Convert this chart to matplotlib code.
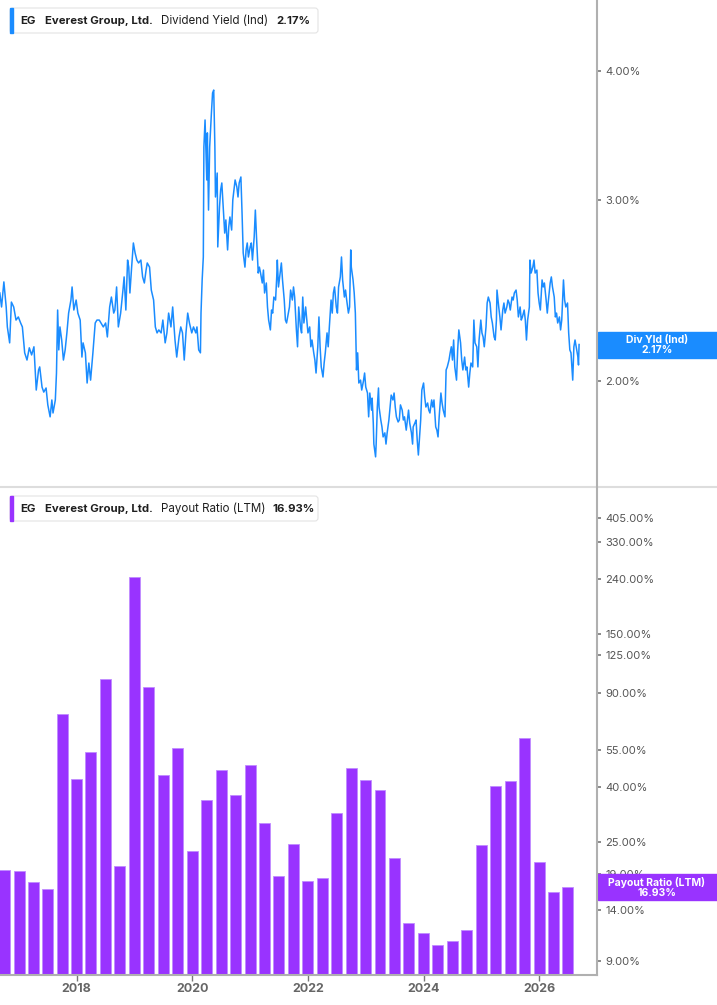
import matplotlib
matplotlib.use("Agg")
import matplotlib.pyplot as plt
from matplotlib.patches import Rectangle, FancyBboxPatch
from matplotlib.lines import Line2D
from matplotlib.transforms import IdentityTransform
from matplotlib.ticker import FixedLocator, FuncFormatter, NullLocator
import pandas as pd

plt.rcParams["font.family"] = ["Inter", "DejaVu Sans"]

# ---- data -------------------------------------------------------------
ticker = "EG"
company = "Everest Group, Ltd."

# dividend yield (Ind), % -- (decimal year, value)
div_yield_points = [
    (2016.67, 2.435), (2016.70, 2.360), (2016.74, 2.496), (2016.78, 2.360), (2016.80, 2.257),
    (2016.84, 2.178), (2016.87, 2.386), (2016.91, 2.360), (2016.95, 2.292), (2016.99, 2.308),
    (2017.03, 2.277), (2017.06, 2.257), (2017.10, 2.130), (2017.14, 2.096), (2017.18, 2.154),
    (2017.22, 2.120), (2017.26, 2.159), (2017.30, 1.960), (2017.34, 2.050), (2017.36, 2.064),
    (2017.40, 1.973), (2017.43, 1.951), (2017.47, 1.969), (2017.50, 1.896), (2017.54, 1.846),
    (2017.57, 1.917), (2017.59, 1.862), (2017.63, 1.917), (2017.65, 2.036), (2017.67, 2.344),
    (2017.69, 2.144), (2017.71, 2.257), (2017.74, 2.192), (2017.77, 2.096), (2017.80, 2.144),
    (2017.83, 2.227), (2017.86, 2.328), (2017.90, 2.397), (2017.92, 2.468), (2017.95, 2.344),
    (2017.99, 2.397), (2018.02, 2.328), (2018.06, 2.292), (2018.09, 2.110), (2018.11, 2.178),
    (2018.15, 2.130), (2018.18, 1.991), (2018.21, 2.082), (2018.24, 2.004), (2018.28, 2.130),
    (2018.32, 2.277), (2018.35, 2.292), (2018.39, 2.292), (2018.42, 2.277), (2018.46, 2.257),
    (2018.50, 2.277), (2018.53, 2.207), (2018.57, 2.360), (2018.60, 2.413), (2018.64, 2.328),
    (2018.66, 2.344), (2018.69, 2.468), (2018.72, 2.257), (2018.76, 2.328), (2018.80, 2.451),
    (2018.82, 2.524), (2018.85, 2.344), (2018.88, 2.621), (2018.90, 2.580), (2018.92, 2.435),
    (2018.95, 2.580), (2018.98, 2.723), (2019.01, 2.663), (2019.04, 2.621), (2019.07, 2.604),
    (2019.11, 2.621), (2019.14, 2.524), (2019.17, 2.490), (2019.20, 2.563), (2019.22, 2.604),
    (2019.26, 2.580), (2019.29, 2.451), (2019.33, 2.397), (2019.36, 2.257), (2019.39, 2.227),
    (2019.42, 2.242), (2019.46, 2.227), (2019.49, 2.292), (2019.53, 2.178), (2019.56, 2.227),
    (2019.59, 2.328), (2019.63, 2.257), (2019.66, 2.360), (2019.70, 2.192), (2019.73, 2.110),
    (2019.77, 2.207), (2019.80, 2.257), (2019.83, 2.227), (2019.86, 2.096), (2019.89, 2.227),
    (2019.92, 2.328), (2019.95, 2.277), (2019.99, 2.227), (2020.02, 2.257), (2020.06, 2.227),
    (2020.08, 2.257), (2020.11, 2.144), (2020.14, 2.130),
    (2020.15, 2.328), (2020.17, 2.507), (2020.19, 2.639), (2020.20, 3.375), (2020.22, 3.585),
    (2020.25, 3.135), (2020.26, 3.483), (2020.28, 2.931), (2020.30, 3.375), (2020.33, 3.641),
    (2020.35, 3.808), (2020.37, 3.833), (2020.39, 3.375), (2020.40, 3.018), (2020.43, 3.184),
    (2020.44, 2.699), (2020.47, 2.951), (2020.49, 3.066), (2020.51, 3.114), (2020.54, 2.912),
    (2020.56, 2.784), (2020.58, 2.867), (2020.61, 2.681), (2020.63, 2.822), (2020.65, 2.886),
    (2020.68, 2.803), (2020.70, 2.998), (2020.72, 3.066), (2020.74, 3.135), (2020.77, 3.086),
    (2020.79, 3.018), (2020.81, 3.114), (2020.84, 3.156), (2020.86, 2.912), (2020.88, 2.663),
    (2020.91, 2.580), (2020.93, 2.681), (2020.95, 2.723), (2020.97, 2.639), (2021.00, 2.699),
    (2021.02, 2.723), (2021.04, 2.621), (2021.07, 2.760), (2021.09, 2.931), (2021.11, 2.760),
    (2021.14, 2.546), (2021.16, 2.580), (2021.18, 2.546), (2021.21, 2.490), (2021.23, 2.563),
    (2021.25, 2.435), (2021.28, 2.490), (2021.30, 2.360), (2021.32, 2.292), (2021.35, 2.242),
    (2021.37, 2.344), (2021.39, 2.328), (2021.41, 2.413), (2021.44, 2.397), (2021.46, 2.524),
    (2021.47, 2.621), (2021.49, 2.468), (2021.52, 2.546), (2021.54, 2.604), (2021.56, 2.507),
    (2021.59, 2.397), (2021.61, 2.292), (2021.63, 2.277), (2021.66, 2.328), (2021.68, 2.360),
    (2021.70, 2.451), (2021.73, 2.397), (2021.75, 2.468), (2021.77, 2.413), (2021.80, 2.242),
    (2021.82, 2.159), (2021.84, 2.360), (2021.87, 2.257), (2021.89, 2.227), (2021.91, 2.413),
    (2021.93, 2.277), (2021.96, 2.360), (2021.98, 2.292), (2022.00, 2.227), (2022.03, 2.257),
    (2022.05, 2.159), (2022.07, 2.192), (2022.10, 2.130), (2022.12, 2.096), (2022.14, 2.036),
    (2022.17, 2.159), (2022.19, 2.308), (2022.21, 2.159), (2022.23, 2.064), (2022.26, 2.018),
    (2022.28, 2.082), (2022.30, 2.130), (2022.33, 2.227), (2022.35, 2.159), (2022.37, 2.257),
    (2022.40, 2.397), (2022.42, 2.328), (2022.44, 2.435), (2022.46, 2.468), (2022.49, 2.360),
    (2022.51, 2.328), (2022.53, 2.468), (2022.56, 2.524), (2022.58, 2.639), (2022.60, 2.507),
    (2022.63, 2.413), (2022.65, 2.451), (2022.67, 2.397), (2022.70, 2.328), (2022.72, 2.360),
    (2022.74, 2.681), (2022.75, 2.580), (2022.78, 2.507), (2022.80, 2.435), (2022.82, 2.328),
    (2022.84, 2.050), (2022.86, 2.130), (2022.88, 1.991), (2022.91, 2.004), (2022.93, 1.960),
    (2022.96, 2.000), (2022.98, 2.036), (2023.00, 1.973), (2023.03, 1.947), (2023.05, 1.846),
    (2023.07, 1.947), (2023.10, 1.874), (2023.11, 1.925), (2023.13, 1.821), (2023.14, 1.737),
    (2023.17, 1.688), (2023.18, 1.737), (2023.20, 1.887), (2023.22, 1.969), (2023.23, 1.887),
    (2023.26, 1.833), (2023.28, 1.805), (2023.30, 1.765), (2023.33, 1.781), (2023.35, 1.737),
    (2023.37, 1.781), (2023.40, 1.833), (2023.42, 1.887), (2023.44, 1.938), (2023.47, 1.917),
    (2023.49, 1.947), (2023.51, 1.887), (2023.53, 1.846), (2023.56, 1.825), (2023.58, 1.833),
    (2023.60, 1.896), (2023.63, 1.874), (2023.65, 1.833), (2023.67, 1.846), (2023.70, 1.792),
    (2023.72, 1.833), (2023.74, 1.874), (2023.76, 1.821), (2023.79, 1.781), (2023.81, 1.737),
    (2023.82, 1.805), (2023.85, 1.821), (2023.87, 1.833), (2023.89, 1.753), (2023.91, 1.695),
    (2023.93, 1.765), (2023.95, 1.833), (2023.97, 1.960), (2024.00, 1.991), (2024.02, 1.929),
    (2024.04, 1.887), (2024.07, 1.904), (2024.09, 1.874), (2024.11, 1.862), (2024.14, 1.917),
    (2024.16, 1.887), (2024.18, 1.917), (2024.21, 1.805), (2024.23, 1.792), (2024.25, 1.765),
    (2024.27, 1.846), (2024.30, 1.947), (2024.32, 1.904), (2024.34, 1.874), (2024.37, 1.846),
    (2024.39, 2.050), (2024.41, 2.064), (2024.44, 2.096), (2024.46, 2.130),
    (2024.48, 2.159), (2024.50, 2.096), (2024.52, 2.192), (2024.54, 2.064), (2024.57, 2.004),
    (2024.59, 2.144), (2024.61, 2.242), (2024.64, 2.178), (2024.66, 2.096), (2024.68, 2.050),
    (2024.71, 2.110), (2024.73, 2.050), (2024.75, 2.064), (2024.78, 1.973), (2024.80, 2.036),
    (2024.82, 2.082), (2024.85, 2.064), (2024.87, 2.292), (2024.89, 2.178), (2024.92, 2.159),
    (2024.94, 2.064), (2024.96, 2.192), (2024.99, 2.292), (2025.01, 2.227), (2025.03, 2.207),
    (2025.05, 2.159), (2025.08, 2.257), (2025.10, 2.381), (2025.12, 2.413), (2025.15, 2.381),
    (2025.17, 2.308), (2025.19, 2.277), (2025.22, 2.207), (2025.24, 2.192), (2025.26, 2.292),
    (2025.27, 2.451), (2025.30, 2.360), (2025.32, 2.308), (2025.34, 2.242), (2025.37, 2.344),
    (2025.39, 2.381), (2025.41, 2.328), (2025.44, 2.360), (2025.46, 2.397), (2025.48, 2.381),
    (2025.50, 2.344), (2025.53, 2.413), (2025.55, 2.397), (2025.57, 2.435), (2025.60, 2.451),
    (2025.62, 2.397), (2025.64, 2.308), (2025.67, 2.360), (2025.69, 2.292), (2025.71, 2.308),
    (2025.74, 2.344), (2025.76, 2.292), (2025.78, 2.192), (2025.80, 2.292), (2025.83, 2.360),
    (2025.84, 2.621), (2025.86, 2.546), (2025.89, 2.580), (2025.91, 2.621), (2025.93, 2.546),
    (2025.96, 2.563), (2025.98, 2.435), (2026.00, 2.381), (2026.02, 2.344), (2026.05, 2.507),
    (2026.07, 2.468), (2026.09, 2.490), (2026.12, 2.397), (2026.14, 2.328), (2026.16, 2.397),
    (2026.19, 2.490), (2026.21, 2.524), (2026.23, 2.468), (2026.26, 2.413), (2026.28, 2.308),
    (2026.30, 2.328), (2026.32, 2.277), (2026.35, 2.308), (2026.37, 2.242), (2026.39, 2.292),
    (2026.42, 2.507), (2026.44, 2.397), (2026.46, 2.360), (2026.49, 2.381), (2026.51, 2.227),
    (2026.53, 2.144), (2026.55, 2.130), (2026.58, 2.004), (2026.60, 2.159), (2026.62, 2.192),
    (2026.65, 2.144), (2026.67, 2.110), (2026.68, 2.073), (2026.69, 2.170),
]
div_years = [p[0] for p in div_yield_points]
div_yield = [p[1] for p in div_yield_points]

# payout ratio (LTM), %, one bar per quarter end
quarter_ends = pd.date_range("2016-09-30", periods=40, freq="QE")
payout_ratio = [
    19.66, 19.54, 17.69, 16.65, 75.3, 42.9, 54.0, 101.4, 20.3, 243.0,
    94.5, 44.6, 55.9, 23.1, 35.9, 46.3, 37.4, 48.3, 29.4, 18.7,
    24.5, 17.9, 18.35, 32.0, 47.3, 42.6, 39.0, 21.85, 12.47, 11.44,
    10.32, 10.71, 11.74, 24.3, 40.4, 42.2, 61.1, 21.05, 16.23, 16.93,
]
payout_years = [d.year + d.dayofyear / 365.25 for d in quarter_ends]

yield_ticks = [2, 3, 4]
payout_ticks = [9, 14, 19, 25, 40, 55, 90, 125, 150, 240, 330, 405]
year_ticks = [2018, 2020, 2022, 2024, 2026]

last_yield = 2.17
last_payout = 16.93

# ---- style ------------------------------------------------------------
BLUE = "#1a8cff"
PURPLE = "#9933ff"
AXIS_GRAY = "#b0b0b0"
TEXT = "#1f1f1f"

W, H = 717, 1005
fig = plt.figure(figsize=(W / 100, H / 100), dpi=100)


def fx(px):
    return px / W


def fy(py):
    return 1 - py / H


ax1 = fig.add_axes([0, fy(487), fx(597), fy(0) - fy(487)])
ax2 = fig.add_axes([0, fy(975), fx(597), fy(490) - fy(975)])

pct = FuncFormatter(lambda v, _: "%.2f%%" % v)

for ax in (ax1, ax2):
    ax.set_yscale("log")
    ax.set_xlim(2016.673, 2027.0)
    for s in ("left", "top", "right"):
        ax.spines[s].set_visible(False)
    ax.yaxis.tick_right()
    ax.yaxis.set_minor_locator(NullLocator())
    ax.yaxis.set_major_formatter(pct)
    ax.tick_params(axis="y", length=3, width=1.2, color="#777777",
                   labelsize=8, labelcolor="#555555", pad=3)
    ax.patch.set_alpha(0)

# top panel: dividend yield line
ax1.plot(div_years, div_yield, color=BLUE, lw=1.1)
ax1.set_ylim(1.578, 4.688)
ax1.yaxis.set_major_locator(FixedLocator(yield_ticks))
ax1.spines["bottom"].set_visible(False)
ax1.set_xticks([])

# bottom panel: payout ratio bars
ax2.bar(payout_years, payout_ratio, width=0.19, color=PURPLE,
        edgecolor="#c08cff", linewidth=0.6)
ax2.set_ylim(7.98, 515)
ax2.yaxis.set_major_locator(FixedLocator(payout_ticks))
ax2.spines["bottom"].set_color(AXIS_GRAY)
ax2.spines["bottom"].set_linewidth(1.5)
ax2.set_xticks(year_ticks)
ax2.set_xticklabels([str(y) for y in year_ticks])
ax2.tick_params(axis="x", length=4, width=1, color="#777777",
                labelsize=9, labelcolor="#666666", pad=2)
for lab in ax2.get_xticklabels():
    lab.set_fontweight("bold")

# separator and right axis line
fig.add_artist(Line2D([0, 1], [fy(487), fy(487)], transform=fig.transFigure,
                      color="#dddddd", lw=1.5))
fig.add_artist(Line2D([fx(597), fx(597)], [fy(0), fy(975)], transform=fig.transFigure,
                      color=AXIS_GRAY, lw=1.5))

px = IdentityTransform()


def legend_box(top, color, label, value):
    fig.add_artist(FancyBboxPatch((10, H - top - 25), 308, 25,
                                  boxstyle="round,pad=0,rounding_size=3",
                                  fc="white", ec="#e4e4e4", lw=0.8, transform=px))
    fig.add_artist(Rectangle((10, H - top - 25), 3, 25, color=color, transform=px))
    yc = fy(top + 13)
    fig.text(fx(20), yc, ticker, fontsize=8.2, weight="bold", color=TEXT, va="center")
    fig.text(fx(45), yc, company, fontsize=8.2, weight="bold", color=TEXT, va="center")
    fig.text(fx(161), yc, label, fontsize=8.3, color=TEXT, va="center")
    fig.text(fx(value[1]), yc, value[0], fontsize=8.2, weight="bold", color=TEXT, va="center")


legend_box(8, BLUE, "Dividend Yield (Ind)", ("%.2f%%" % last_yield, 276))
legend_box(496, PURPLE, "Payout Ratio (LTM)", ("%.2f%%" % last_payout, 272))


def value_tag(ax, val, color, label):
    y = ax.transData.transform((2020, val))[1]
    fig.add_artist(Rectangle((598, y - 13), 119, 26, color=color, transform=px))
    fig.text(fx(657), y / H, "%s\n%.2f%%" % (label, val), fontsize=7.5,
             weight="bold", color="white", ha="center", va="center", linespacing=1.0)


value_tag(ax1, last_yield, BLUE, "Div Yld (Ind)")
value_tag(ax2, last_payout, PURPLE, "Payout Ratio (LTM)")

fig.savefig("out.png", dpi=100, facecolor="white")
